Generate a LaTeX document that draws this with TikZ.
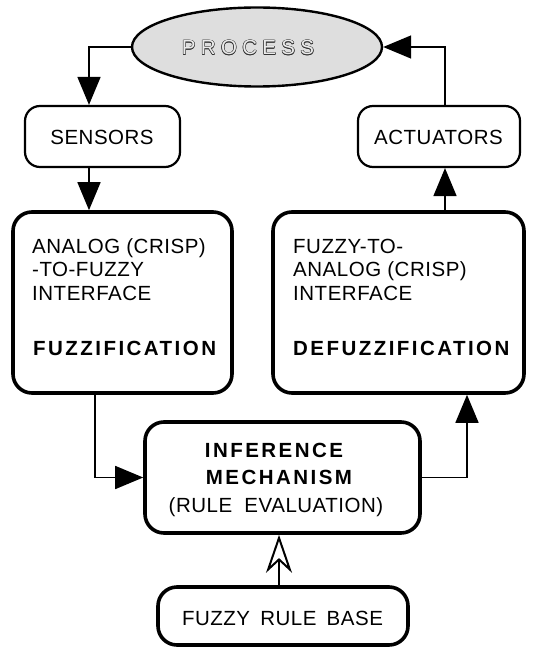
\documentclass[tikz,border=0pt]{standalone}
\usepackage{fontspec}
\setmainfont{Liberation Sans}[LetterSpace=2.5]
\newfontfamily\spacedbold{Liberation Sans}[LetterSpace=12]
\newfontfamily\widefont{Liberation Sans}[LetterSpace=26]
\usetikzlibrary{arrows.meta,shapes.geometric}

% outlined lettering: dark copies shifted around a light copy
\newcommand\hollowword[1]{%
  \makebox[0pt][l]{\kern-0.5pt#1}%
  \makebox[0pt][l]{\kern0.5pt#1}%
  \makebox[0pt][l]{\raisebox{0.5pt}{#1}}%
  \makebox[0pt][l]{\raisebox{-0.5pt}{#1}}%
  \makebox[0pt][l]{\kern-0.35pt\raisebox{0.35pt}{#1}}%
  \makebox[0pt][l]{\kern0.35pt\raisebox{0.35pt}{#1}}%
  \makebox[0pt][l]{\kern-0.35pt\raisebox{-0.35pt}{#1}}%
  \makebox[0pt][l]{\kern0.35pt\raisebox{-0.35pt}{#1}}%
  \textcolor{black!8}{#1}}

\tikzset{
  every node/.style={inner sep=0pt, font=\fontsize{20.5}{23.5}\selectfont},
  softbox/.style={draw, line width=2.2pt, rounded corners=15pt},
  hardbox/.style={draw, line width=3.6pt, rounded corners=19pt},
  conn/.style={line width=1.6pt, -{Triangle[length=28pt,width=23pt]}},
  openconn/.style={line width=1.6pt, -{Stealth[open,length=38pt,width=26pt,inset=12pt,line width=2pt]}},
  txt/.style={anchor=base west},
  ctxt/.style={anchor=base},
}

\begin{document}
\begin{tikzpicture}[x=1pt,y=-1pt]
  \useasboundingbox (0,0) rectangle (545,647);

  % the controlled process
  \node[draw, ellipse, line width=2.4pt, fill=black!13,
        minimum width=250pt, minimum height=79pt] (proc) at (257,47) {};
  \node[ctxt, text=black!80] (proctxt) at (248,55) {\widefont\hollowword{PROCESS}};

  % sensing and actuation
  \node[softbox, minimum width=155pt, minimum height=61pt] (sens) at (102.5,136.5) {};
  \node[ctxt] (senstxt) at (102,145) {SENSORS};
  \node[softbox, minimum width=162pt, minimum height=61pt] (act) at (439,136.5) {};
  \node[ctxt] (acttxt) at (438.5,145) {ACTUATORS};

  % fuzzification block
  \node[hardbox, minimum width=219pt, minimum height=181pt] (fuzz) at (122.5,302.5) {};
  \node[txt] (fz1) at (32,253) {ANALOG (CRISP)};
  \node[txt] (fz2) at (32,276.5) {-TO-FUZZY};
  \node[txt] (fz3) at (32,300) {INTERFACE};
  \node[txt] (fz4) at (33,355) {\spacedbold\bfseries FUZZIFICATION};

  % defuzzification block
  \node[hardbox, minimum width=251pt, minimum height=181pt] (defuzz) at (398.5,302.5) {};
  \node[txt] (dz1) at (293,253) {FUZZY-TO-};
  \node[txt] (dz2) at (293,276.5) {ANALOG (CRISP)};
  \node[txt] (dz3) at (293,300) {INTERFACE};
  \node[txt] (dz4) at (293,355) {\spacedbold\bfseries DEFUZZIFICATION};

  % inference engine
  \node[hardbox, minimum width=275pt, minimum height=111pt] (infer) at (282.5,477.5) {};
  \node[ctxt] (in1) at (274,457) {\spacedbold\bfseries INFERENCE};
  \node[ctxt] (in2) at (279,484) {\spacedbold\bfseries MECHANISM};
  \node[ctxt] (in3) at (276,512) {(RULE\hspace{6pt} EVALUATION)};

  % rule base
  \node[hardbox, minimum width=250pt, minimum height=58pt] (rule) at (283,616) {};
  \node[ctxt] (rb) at (282.5,625) {FUZZY\hspace{4pt} RULE\hspace{4pt} BASE};

  % signal flow
  \draw[conn] (proc.west) -| ([xshift=-13.5pt]sens.north);
  \draw[conn] ([xshift=-13.5pt]sens.south) -- ([xshift=-13.5pt]sens.south |- fuzz.north);
  \draw[conn] ([xshift=-27.5pt]fuzz.south) |- (infer.west);
  \draw[conn] (infer.east) -| ([xshift=68.5pt]defuzz.south);
  \draw[conn] ([xshift=46.5pt]defuzz.north) -- ([xshift=46.5pt]defuzz.north |- act.south);
  \draw[conn] ([xshift=6pt]act.north) |- (proc.east);
  \draw[openconn] ([xshift=-4pt]rule.north) -- ([xshift=-4pt]rule.north |- infer.south);
\end{tikzpicture}
\end{document}
